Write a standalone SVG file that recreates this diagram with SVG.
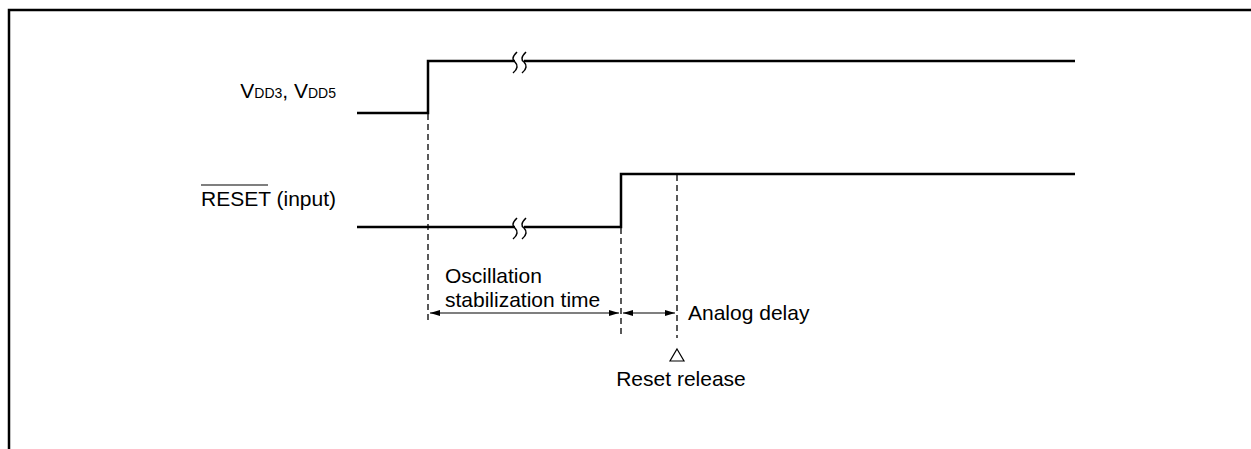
<svg xmlns="http://www.w3.org/2000/svg" width="1251" height="449" viewBox="0 0 1251 449">
<style>
.frame{fill:none;stroke:#000;stroke-width:2.5}
.sig{fill:none;stroke:#000;stroke-width:2.5;stroke-linejoin:miter}
.dash{fill:none;stroke:#000;stroke-width:1.3;stroke-dasharray:6,4}
.dim{fill:none;stroke:#000;stroke-width:1.2}
.brk{fill:none;stroke:#000;stroke-width:1.5}
.t{font-family:"Liberation Sans",Arial,sans-serif;font-size:21px;fill:#000}
.sub{font-size:14px}
</style>
<defs>
<marker id="ah" viewBox="0 0 10 6" refX="10" refY="3" markerWidth="10" markerHeight="6" markerUnits="userSpaceOnUse" orient="auto-start-reverse">
<path d="M0,0 L10,3 L0,6 z" fill="#000"/>
</marker>
</defs>
<rect width="1251" height="449" fill="#fff"/>
<path class="frame" d="M9,449 L9,10 L1251,10"/>
<g id="vdd">
<path class="sig" d="M357,113 L428,113 L428,61 L1075,61"/>
<rect x="515" y="55" width="9" height="12" fill="#fff"/>
<path class="brk" d="M517,52 C512,57 512,60 515,62 C518,65 518,69 513,73"/>
<path class="brk" d="M526,52 C521,57 521,60 524,62 C527,65 527,69 522,73"/>
<text class="t" x="336" y="98" text-anchor="end">V<tspan class="sub">DD3</tspan>, V<tspan class="sub">DD5</tspan></text>
</g>
<g id="reset">
<path class="sig" d="M357,227 L621,227 L621,174 L1075,174"/>
<rect x="515" y="221" width="9" height="12" fill="#fff"/>
<path class="brk" d="M517,218 C512,223 512,226 515,228 C518,231 518,235 513,239"/>
<path class="brk" d="M526,218 C521,223 521,226 524,228 C527,231 527,235 522,239"/>
<text class="t" x="336" y="206" text-anchor="end">RESET (input)</text>
<line x1="201" y1="185" x2="268" y2="185" stroke="#000" stroke-width="1.2"/>
</g>
<g id="connectors">
<line class="dash" x1="428" y1="114" x2="428" y2="320"/>
<line class="dash" x1="621" y1="228" x2="621" y2="338"/>
<line class="dash" x1="677" y1="175" x2="677" y2="338"/>
<line class="dim" x1="430" y1="313" x2="619" y2="313" marker-start="url(#ah)" marker-end="url(#ah)"/>
<line class="dim" x1="623" y1="313" x2="675" y2="313" marker-start="url(#ah)" marker-end="url(#ah)"/>
</g>
<g id="labels">
<text class="t" x="445" y="283">Oscillation</text>
<text class="t" x="445" y="307">stabilization time</text>
<text class="t" x="688" y="320">Analog delay</text>
<path d="M677,349 L684,361 L670,361 z" fill="none" stroke="#000" stroke-width="1.2"/>
<text class="t" x="681" y="386" text-anchor="middle">Reset release</text>
</g>
</svg>
